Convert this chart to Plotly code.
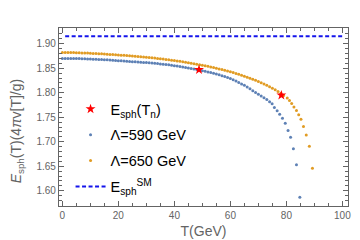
import plotly.graph_objects as go

# Lambda = 590 GeV (blue)
T_590 = list(range(0, 75)) + [74.9, 75.7, 76.7, 77.6, 78.6, 79.6, 80.6, 81.5, 82.5, 83.6, 84.8]
E_590 = [
    1.870, 1.870, 1.870, 1.8699, 1.8698, 1.8697, 1.8696, 1.8694, 1.8692, 1.8690,
    1.8688, 1.8685, 1.8682, 1.8679, 1.8676, 1.8673, 1.8670, 1.8666, 1.8662, 1.8658,
    1.8654, 1.8650, 1.8646, 1.8642, 1.8638, 1.8634, 1.8630, 1.8626, 1.8622, 1.8618,
    1.8614, 1.8610, 1.8605, 1.8600, 1.8594, 1.8588, 1.8582, 1.8575, 1.8568, 1.8560,
    1.8552, 1.8544, 1.8535, 1.8526, 1.8516, 1.8506, 1.8495, 1.8484, 1.8472, 1.8460,
    1.8450, 1.8437, 1.8424, 1.8410, 1.8396, 1.8381, 1.8365, 1.8348, 1.8331, 1.8313,
    1.8290, 1.8265, 1.8240, 1.8210, 1.8180, 1.8150, 1.8115, 1.8080, 1.8040, 1.8005,
    1.7970, 1.7935, 1.7900, 1.7860, 1.7815,
    1.7775, 1.7700, 1.7630, 1.7560, 1.7480, 1.7375, 1.7230, 1.7090, 1.6860, 1.6530, 1.5870,
]

# Lambda = 650 GeV (orange)
T_650 = list(range(0, 80)) + [80.3, 81.1, 81.9, 82.7, 83.6, 84.4, 85.2, 86.1, 87.1, 88.2, 89.3]
E_650 = [
    1.8820, 1.8820, 1.8820, 1.8820, 1.8818, 1.8816, 1.8814, 1.8812, 1.8810, 1.8808,
    1.8805, 1.8802, 1.8800, 1.8797, 1.8793, 1.8790, 1.8786, 1.8782, 1.8778, 1.8774,
    1.8770, 1.8766, 1.8762, 1.8758, 1.8753, 1.8748, 1.8743, 1.8738, 1.8733, 1.8728,
    1.8723, 1.8718, 1.8712, 1.8706, 1.8700, 1.8693, 1.8686, 1.8679, 1.8672, 1.8664,
    1.8656, 1.8648, 1.8640, 1.8631, 1.8622, 1.8613, 1.8603, 1.8593, 1.8583, 1.8572,
    1.8561, 1.8550, 1.8538, 1.8526, 1.8513, 1.8500, 1.8486, 1.8472, 1.8457, 1.8442,
    1.8426, 1.8410, 1.8393, 1.8375, 1.8357, 1.8338, 1.8318, 1.8297, 1.8275, 1.8252,
    1.8228, 1.8203, 1.8177, 1.8150, 1.8122, 1.8092, 1.8060, 1.8026, 1.7985, 1.7945,
    1.7890, 1.7840, 1.7780, 1.7710, 1.7640, 1.7550, 1.7460, 1.7310, 1.7140, 1.6910, 1.6460,
]

# nucleation points
T_n = [48.8, 78.2]
E_n = [1.847, 1.795]

# SM sphaleron energy
T_sm = [1, 100]
E_sm = [1.915, 1.915]

BLUE = "rgb(94,129,181)"
ORANGE = "rgb(225,156,36)"
GRAY = "rgb(100,100,100)"

fig = go.Figure()
fig.add_trace(go.Scatter(x=T_sm, y=E_sm, mode="lines", name="E<sub>sph</sub><sup>SM</sup>",
                         line=dict(color="rgb(20,20,235)", width=2, dash="4px,2.5px"),
                         legendrank=4, legendgroup="d"))
fig.add_trace(go.Scatter(x=T_590, y=E_590, mode="markers", name="Λ=590 GeV",
                         marker=dict(color=BLUE, size=3), legendrank=2, legendgroup="b"))
fig.add_trace(go.Scatter(x=T_650, y=E_650, mode="markers", name="Λ=650 GeV",
                         marker=dict(color=ORANGE, size=3), legendrank=3, legendgroup="c"))
fig.add_trace(go.Scatter(x=T_n, y=E_n, mode="markers", name="E<sub>sph</sub>(T<sub>n</sub>)",
                         marker=dict(color="red", size=7.5, symbol="star"), legendrank=1, legendgroup="a"))

axis_common = dict(showline=True, linecolor=GRAY, linewidth=1.3, mirror="ticks",
                   ticks="inside", ticklen=5, tickcolor=GRAY, tickwidth=1,
                   showgrid=False, zeroline=False,
                   tickfont=dict(family="Liberation Sans, Arial", size=10, color=GRAY))

fig.update_xaxes(range=[-1.2, 102], tick0=0, dtick=20,
                 minor=dict(ticks="inside", ticklen=3, dtick=5, tickcolor=GRAY, showgrid=False),
                 title=dict(text="T(GeV)", font=dict(family="Liberation Sans, Arial", size=14, color=GRAY),
                            standoff=6),
                 **axis_common)
fig.update_yaxes(range=[1.569, 1.932], tick0=1.6, dtick=0.05, tickformat=".2f",
                 minor=dict(ticks="inside", ticklen=3, dtick=0.01, tickcolor=GRAY, showgrid=False),
                 **axis_common)

fig.add_annotation(text="<i>E</i><sub>sph</sub>(T)(4<i>π</i>v[T]/g)", xref="paper", yref="paper",
                   x=-0.145, y=0.42, textangle=-90, showarrow=False, xanchor="center", yanchor="middle",
                   font=dict(family="Liberation Sans, Arial", size=14, color=GRAY))

fig.update_layout(
    width=360, height=240,
    margin=dict(l=51, r=20, t=20, b=42),
    paper_bgcolor="white", plot_bgcolor="white",
    showlegend=True,
    legend=dict(x=0.04, y=0.635, xanchor="left", yanchor="top", bgcolor="rgba(0,0,0,0)",
                font=dict(family="Liberation Sans, Arial", size=14.5, color="black"),
                tracegroupgap=4, itemwidth=30),
)

fig.write_html("out.html")
